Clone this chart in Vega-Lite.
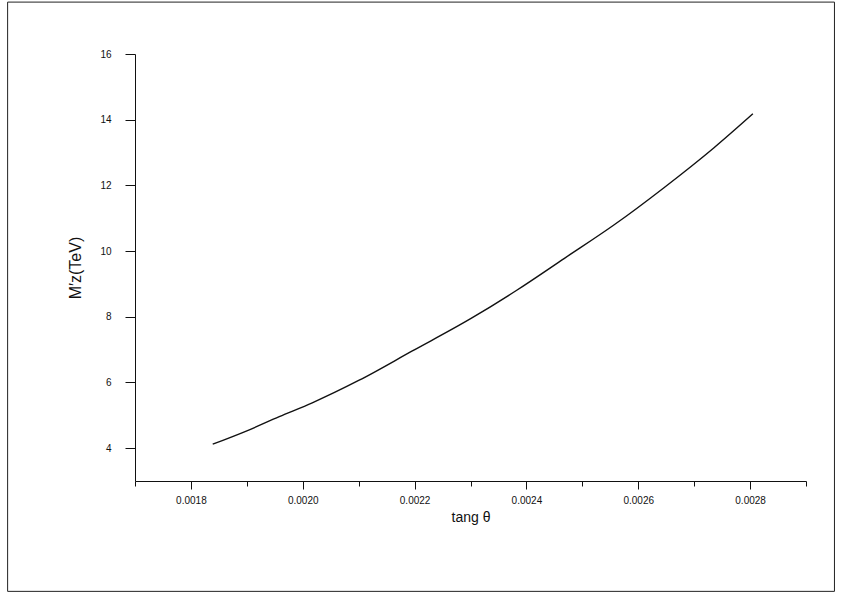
{
  "$schema": "https://vega.github.io/schema/vega-lite/v6.json",
  "width": 671,
  "height": 427,
  "padding": {"left": 7, "top": 1, "right": 5, "bottom": 3},
  "background": "white",
  "config": {
    "view": {"stroke": null},
    "font": "Liberation Sans",
    "axis": {
      "domainColor": "#111",
      "tickColor": "#111",
      "labelColor": "#111",
      "titleColor": "#111",
      "grid": false,
      "labelFont": "Liberation Sans",
      "titleFont": "Liberation Sans",
      "titleFontWeight": "normal",
      "labelFontSize": 10,
      "titleFontSize": 14
    }
  },
  "data": {
    "values": [
      {"tan": 0.001839, "M": 4.12},
      {"tan": 0.001899, "M": 4.52},
      {"tan": 0.001958, "M": 4.96},
      {"tan": 0.002017, "M": 5.38},
      {"tan": 0.002100, "M": 6.06},
      {"tan": 0.002196, "M": 6.96},
      {"tan": 0.002301, "M": 7.95},
      {"tan": 0.002382, "M": 8.80},
      {"tan": 0.002468, "M": 9.78},
      {"tan": 0.002557, "M": 10.80},
      {"tan": 0.002646, "M": 11.93},
      {"tan": 0.002735, "M": 13.14},
      {"tan": 0.002805, "M": 14.18}
    ]
  },
  "layer": [
    {
      "mark": {"type": "rect", "fill": null, "stroke": "#222", "strokeWidth": 1, "clip": false},
      "data": {"values": [{}]},
      "encoding": {
        "x": {"datum": 0.0014722, "type": "quantitative", "scale": {"domain": [0.0017, 0.0029], "nice": false, "zero": false}},
        "x2": {"datum": 0.0029509},
        "y": {"datum": 17.58, "type": "quantitative", "scale": {"domain": [3, 16], "nice": false, "zero": false}},
        "y2": {"datum": -0.36}
      }
    },
    {
      "mark": {"type": "line", "color": "#111", "strokeWidth": 1.4, "interpolate": "monotone"},
      "encoding": {
        "x": {
          "field": "tan",
          "type": "quantitative",
          "scale": {"domain": [0.0017, 0.0029], "nice": false, "zero": false},
          "axis": {
            "title": "tang θ",
            "titlePadding": 5,
            "values": [0.0017, 0.0018, 0.0019, 0.0020, 0.0021, 0.0022, 0.0023, 0.0024, 0.0025, 0.0026, 0.0027, 0.0028, 0.0029],
            "labelExpr": "round(datum.value*10000) % 2 == 0 ? format(datum.value, '.4f') : ''",
            "tickSize": {"condition": {"test": "round(datum.value*10000) % 2 == 0", "value": 8}, "value": 5},
            "labelPadding": 6,
            "labelFlush": false,
            "labelOverlap": false
          }
        },
        "y": {
          "field": "M",
          "type": "quantitative",
          "scale": {"domain": [3, 16], "nice": false, "zero": false},
          "axis": {
            "title": "M′ᴢ(TeV)",
            "titleFontSize": 16,
            "titlePadding": 16,
            "values": [4, 5, 6, 7, 8, 9, 10, 11, 12, 13, 14, 15, 16],
            "labelExpr": "datum.value % 2 == 0 ? format(datum.value, 'd') : ''",
            "tickSize": {"condition": {"test": "datum.value % 2 == 0", "value": 10}, "value": 6},
            "labelPadding": 14,
            "labelFlush": false,
            "labelOverlap": false
          }
        }
      }
    }
  ]
}
